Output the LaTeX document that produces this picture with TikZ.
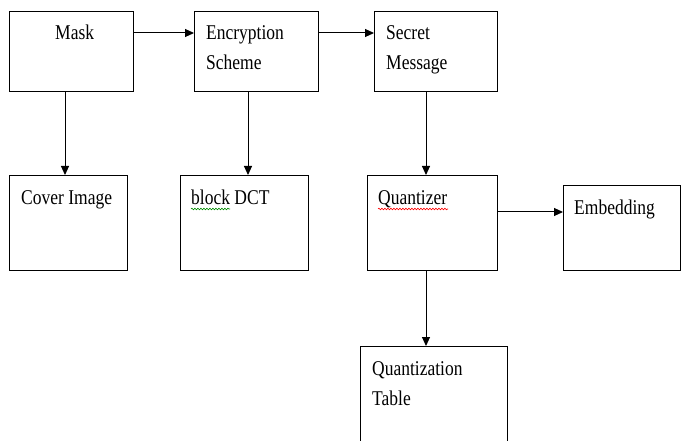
\documentclass[tikz,border=0pt]{standalone}
\usepackage{fontspec}
\setmainfont{Liberation Serif}
\usetikzlibrary{arrows.meta,decorations.pathmorphing}
\newcommand{\stretchtxt}[1]{\scalebox{1}[1.2]{#1}}
\tikzset{
  box/.style={draw, line width=1pt, inner sep=0pt, anchor=north west},
  lbl/.style={anchor=base west, inner sep=0pt, font=\fontsize{17.5}{21}\selectfont},
  arr/.style={line width=1pt, -{Triangle[length=9pt,width=8pt]}},
  wavy/.style={line width=0.6pt, decorate, decoration={snake, amplitude=0.8pt, segment length=3pt}}
}
\begin{document}
\begin{tikzpicture}[x=1pt,y=-1pt]
\useasboundingbox (0,0) rectangle (681,441);
\clip (0,0) rectangle (681,441);
% boxes
\node[box, minimum width=124pt, minimum height=80pt] (mask) at (9,11) {};
\node[box, minimum width=124pt, minimum height=80pt] (enc) at (194,11) {};
\node[box, minimum width=123pt, minimum height=80pt] (sec) at (374,11) {};
\node[box, minimum width=118pt, minimum height=95pt] (cov) at (9,175) {};
\node[box, minimum width=128pt, minimum height=95pt] (dct) at (180,175) {};
\node[box, minimum width=130pt, minimum height=95pt] (qnt) at (367,175) {};
\node[box, minimum width=117pt, minimum height=85pt] (emb) at (563,185) {};
\node[box, minimum width=147pt, minimum height=120pt] (qtab) at (360,346) {};
% labels
\node[lbl] (tmask) at (55,40) {\stretchtxt{Mask}};
\node[lbl] (tenc1) at (206,40) {\stretchtxt{Encryption}};
\node[lbl] (tenc2) at (206,70) {\stretchtxt{Scheme}};
\node[lbl] (tsec1) at (386,40) {\stretchtxt{Secret}};
\node[lbl] (tsec2) at (386,70) {\stretchtxt{Message}};
\node[lbl] (tcov) at (21,205) {\stretchtxt{Cover Image}};
\node[lbl] (tdct) at (191,205) {\stretchtxt{block DCT}};
\node[lbl] (tqnt) at (378,205) {\stretchtxt{Quantizer}};
\node[lbl] (temb) at (574,215) {\stretchtxt{Embedding}};
\node[lbl] (tqt1) at (372,375) {\stretchtxt{Quantization}};
\node[lbl] (tqt2) at (372,405) {\stretchtxt{Table}};
% wavy underlines
\draw[wavy, green!55!black] (191,209) -- (230,209);
\draw[wavy, red] (378,209) -- (448,209);
% connectors
\draw[arr] ([yshift=-22pt]mask.north east) coordinate (a1) -- (a1 -| enc.west);
\draw[arr] ([yshift=-22pt]enc.north east) coordinate (a2) -- (a2 -| sec.west);
\draw[arr] ([xshift=56pt]mask.south west) coordinate (a3) -- (a3 |- cov.north);
\draw[arr] ([xshift=54pt]enc.south west) coordinate (a4) -- (a4 |- dct.north);
\draw[arr] ([xshift=52pt]sec.south west) coordinate (a5) -- (a5 |- qnt.north);
\draw[arr] ([yshift=-37pt]qnt.north east) coordinate (a6) -- (a6 -| emb.west);
\draw[arr] ([xshift=59pt]qnt.south west) coordinate (a7) -- (a7 |- qtab.north);
\end{tikzpicture}
\end{document}
